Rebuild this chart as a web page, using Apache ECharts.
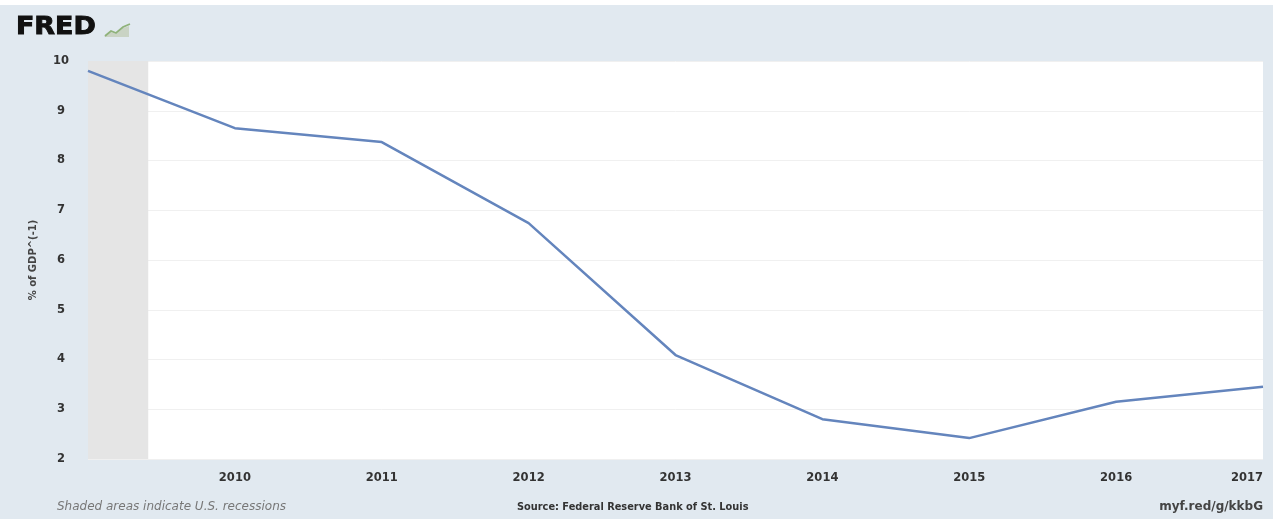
<!DOCTYPE html>
<html>
<head>
<meta charset="utf-8">
<script src="https://cdn.jsdelivr.net/npm/echarts@6/dist/echarts.min.js"></script>
<style>
html,body{margin:0;padding:0;background:#e1e9f0;}
#chart{width:1273px;height:519px;}
</style>
</head>
<body>
<div id="chart"></div>
<script>
const years = [2009, 2010, 2011, 2012, 2013, 2014, 2015, 2016, 2017];
const values = [9.8, 8.65, 8.37, 6.74, 4.09, 2.8, 2.42, 3.15, 3.45];
const recessionStart = 2009.0;
const recessionEnd = 2009.41;
const yTicks = [2, 3, 4, 5, 6, 7, 8, 9, 10];

const seriesData = years.map((y, i) => [y, values[i]]);
const labelFont = '"DejaVu Sans", sans-serif';

const chart = echarts.init(document.getElementById('chart'));
chart.setOption({
  backgroundColor: '#e1e9f0',
  animation: false,
  grid: {left: 88, right: 10, top: 61, bottom: 60, show: true, backgroundColor: '#ffffff', borderWidth: 0},
  xAxis: {
    type: 'value', min: years[0], max: years[years.length - 1], interval: 1,
    axisLine: {show: false},
    axisTick: {show: false},
    splitLine: {show: false},
    axisLabel: {
      showMinLabel: false, alignMaxLabel: 'right', margin: 13,
      formatter: v => String(v), color: '#333', fontSize: 11.5, fontWeight: 'bold', fontFamily: labelFont
    }
  },
  yAxis: {
    type: 'value', min: yTicks[0], max: yTicks[yTicks.length - 1], interval: 1,
    name: '% of GDP^(-1)', nameLocation: 'middle', nameGap: 50, nameRotate: 90,
    nameTextStyle: {color: '#444', fontSize: 10, fontWeight: 'bold', fontFamily: labelFont},
    axisLine: {show: false}, axisTick: {show: false},
    axisLabel: {color: '#333', fontSize: 11.5, fontWeight: 'bold', fontFamily: labelFont, margin: 27, align: 'center'},
    splitLine: {lineStyle: {color: '#f0f0f0', width: 1}}
  },
  series: [{
    type: 'line', data: seriesData, symbol: 'none',
    lineStyle: {color: '#6485bd', width: 2.5},
    markArea: {
      silent: true,
      itemStyle: {color: '#e5e5e5'},
      data: [[{xAxis: recessionStart}, {xAxis: recessionEnd}]]
    }
  }],
  graphic: [
    {type: 'rect', left: 0, top: 0, shape: {width: 1273, height: 5}, style: {fill: '#ffffff'}},
    {type: 'text', x: 16, y: 16, scaleX: 1.12, style: {text: 'FRED', font: 'bold 24px "DejaVu Sans", sans-serif', fill: '#111', stroke: '#111', lineWidth: 0.9}},
    {type: 'polygon', shape: {points: [[104,37],[111,32],[116,34],[123,28],[129,26],[129,37]]}, style: {fill: '#c9d3c4'}},
    {type: 'polyline', shape: {points: [[105,36],[111,31],[116,33],[123,27],[130,24]]}, style: {stroke: '#8fb27a', lineWidth: 1.8, fill: null}},
    {type: 'text', left: 57, top: 501, style: {text: 'Shaded areas indicate U.S. recessions', font: 'italic 12px "DejaVu Sans", sans-serif', fill: '#777'}},
    {type: 'text', left: 517, top: 502, style: {text: 'Source: Federal Reserve Bank of St. Louis', font: 'bold 9.8px "DejaVu Sans", sans-serif', fill: '#333'}},
    {type: 'text', right: 10, top: 501, style: {text: 'myf.red/g/kkbG', font: 'bold 12px "DejaVu Sans", sans-serif', fill: '#444'}}
  ]
});
</script>
</body>
</html>
